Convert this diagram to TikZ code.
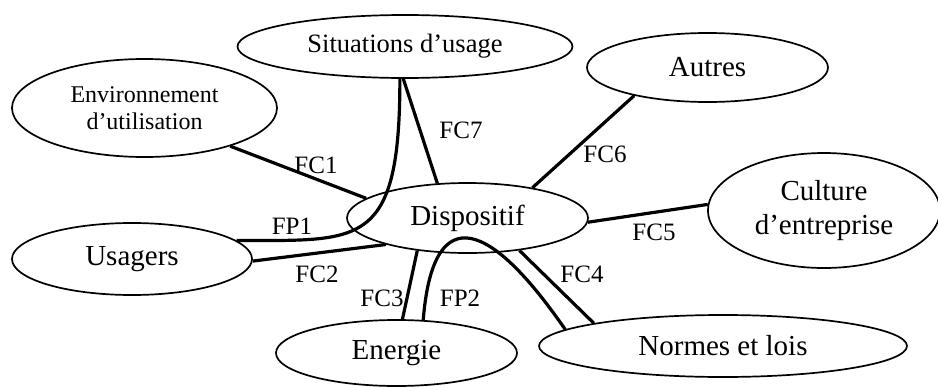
\documentclass[tikz,border=0pt]{standalone}
\usepackage{fontspec}
\setmainfont{Liberation Serif}
\usepackage{tikz}
\usetikzlibrary{shapes.geometric}

\tikzset{
  bloc/.style={draw, ellipse, line width=1.7pt, inner sep=0pt, align=center,
    font=\fontsize{29}{34}\selectfont},
  lien/.style={line width=3.2pt},
  etiq/.style={inner sep=0pt, font=\fontsize{25}{28}\selectfont}
}

\begin{document}
\begin{tikzpicture}[x=1pt, y=-1pt]
    \useasboundingbox (0,0) rectangle (938,386);

    % Ellipses
    \node[bloc, minimum width=335pt, minimum height=63pt, font=\fontsize{26.5}{30}\selectfont] (sit) at (405,46.5) {Situations d’usage};
    \node[bloc, minimum width=265pt, minimum height=98pt, font=\fontsize{24}{27}\selectfont] (env) at (144.5,108) {Environnement\\d’utilisation};
    \node[bloc, minimum width=241pt, minimum height=69pt] (aut) at (707.5,67.5) {Autres};
    \node[bloc, minimum width=232pt, minimum height=115pt] (cul) at (824,210.5) {Culture\\d’entreprise};
    \node[bloc, minimum width=241pt, minimum height=70pt] (disp) at (467.5,218) {Dispositif};
    \node[bloc, minimum width=240pt, minimum height=72pt] (usa) at (132,259) {Usagers};
    \node[bloc, minimum width=241pt, minimum height=66pt] (ener) at (396.5,353) {Energie};
    \node[bloc, minimum width=368pt, minimum height=62pt] (norm) at (723,346) {Normes et lois};

    % Fonctions contraintes
    \draw[lien] (env.-24.3) -- (disp.169.2);
    \draw[lien] (sit.-93.6) -- (disp.131);
    \draw[lien] (usa.-1) -- (disp.198);
    \draw[lien] (disp.-147.1) -- (ener.80.2);
    \draw[lien] (disp.-32.9) -- (norm.170.6);
    \draw[lien] (disp.-2) -- (cul.177.3);
    \draw[lien] (disp.25.6) -- (aut.201.7);

    % Fonctions principales
    \draw[lien] (sit.-99) .. controls (400,250) and (360,240) .. (usa.10);
    \draw[lien] (ener.51.7) .. controls (432,209) and (482,209) .. (norm.174.5);

    % Labels
    \node[etiq] (lfc1) at (316,165) {FC1};
    \node[etiq] (lfc7) at (461,130) {FC7};
    \node[etiq] (lfc6) at (605,154) {FC6};
    \node[etiq] (lfc5) at (654,232) {FC5};
    \node[etiq] (lfc4) at (582,274) {FC4};
    \node[etiq] (lfp1) at (292,226) {FP1};
    \node[etiq] (lfc2) at (317,274) {FC2};
    \node[etiq] (lfc3) at (382,298) {FC3};
    \node[etiq] (lfp2) at (460,298) {FP2};
\end{tikzpicture}
\end{document}
